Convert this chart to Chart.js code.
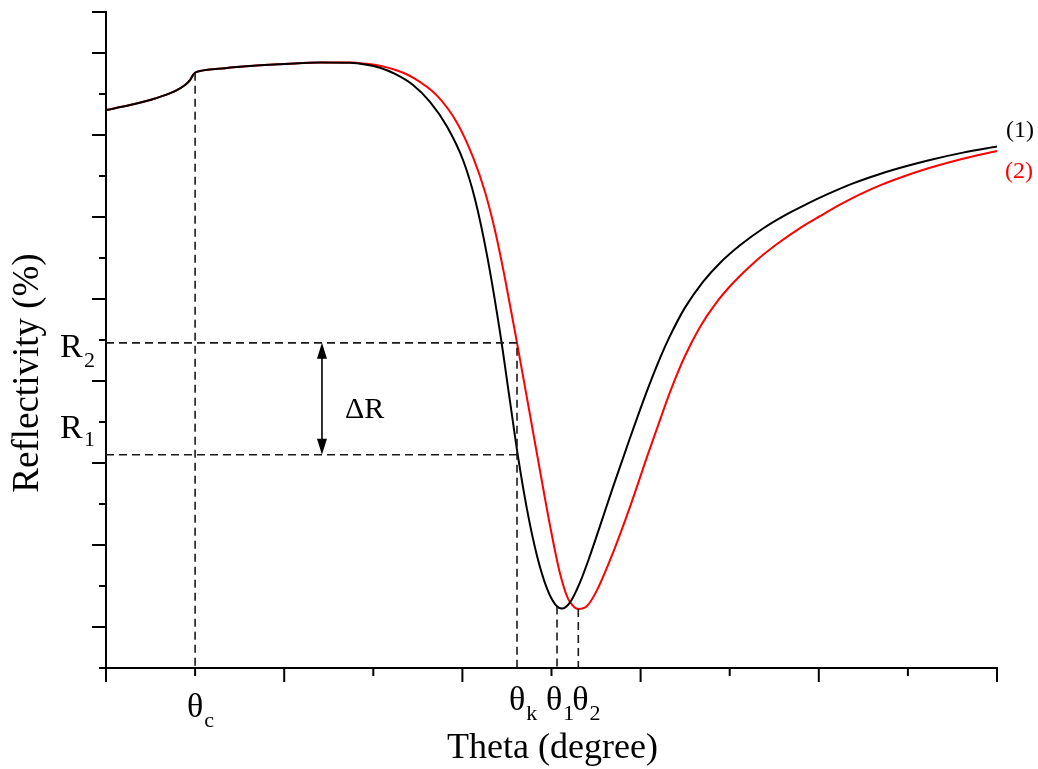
<!DOCTYPE html>
<html>
<head>
<meta charset="utf-8">
<script src="https://cdn.jsdelivr.net/npm/chart.js@4.4.1/dist/chart.umd.min.js"></script>
<style>
  html, body { margin: 0; padding: 0; background: #fff; }
  #wrap { width: 1038px; height: 769px; position: relative; }
</style>
</head>
<body>
<div id="wrap"><canvas id="sprChart"></canvas></div>
<script>
// curve (1), black
const theta1 = [0, 0.269, 0.550, 0.774, 0.887, 0.943, 0.976, 1.0, 1.055, 1.336, 1.616, 2.009, 2.402,
  2.738, 2.907, 3.075, 3.244, 3.446, 3.636, 3.827, 4.007, 4.141, 4.276, 4.422, 4.534, 4.624, 4.725, 4.837, 4.949,
  5.039, 5.118, 5.208, 5.320, 5.432, 5.544, 5.690, 5.881, 6.072, 6.218, 6.330, 6.498, 6.700, 6.891, 7.116,
  7.374, 7.643, 7.868, 8.092, 8.384, 8.687, 8.967, 9.248, 9.618, 10];
const refl1 = [13.61, 13.73, 13.89, 14.07, 14.22, 14.34, 14.46, 14.52, 14.56, 14.63, 14.68, 14.73, 14.77,
  14.76, 14.72, 14.64, 14.49, 14.22, 13.81, 13.21, 12.39, 11.44, 10.07, 8.19, 6.51, 5.16, 3.87, 2.74, 1.94,
  1.56, 1.45, 1.60, 2.09, 2.74, 3.46, 4.41, 5.61, 6.76, 7.56, 8.10, 8.79, 9.42, 9.88, 10.31,
  10.72, 11.07, 11.32, 11.55, 11.82, 12.05, 12.23, 12.39, 12.57, 12.72];
// curve (2), red
const theta2 = [0, 0.269, 0.550, 0.774, 0.887, 0.943, 0.976, 1.0, 1.055, 1.336, 1.616, 2.009, 2.402,
  2.738, 2.907, 3.075, 3.244, 3.446, 3.715, 3.939, 4.119, 4.254, 4.366, 4.478, 4.613, 4.759, 4.871, 4.983,
  5.095, 5.185, 5.253, 5.301, 5.398, 5.511, 5.690, 5.881, 6.072, 6.218, 6.330, 6.498, 6.667, 6.846, 7.037,
  7.284, 7.531, 7.789, 8.013, 8.238, 8.462, 8.687, 8.967, 9.248, 9.618, 10];
const refl2 = [13.61, 13.73, 13.89, 14.07, 14.22, 14.34, 14.46, 14.52, 14.56, 14.63, 14.68, 14.73, 14.77,
  14.77, 14.74, 14.69, 14.59, 14.40, 13.96, 13.30, 12.46, 11.61, 10.67, 9.50, 7.93, 6.17, 4.81, 3.48,
  2.31, 1.69, 1.49, 1.44, 1.51, 1.90, 2.81, 3.93, 5.15, 6.05, 6.73, 7.61, 8.32, 8.90, 9.39,
  9.91, 10.34, 10.73, 11.02, 11.30, 11.55, 11.77, 12.00, 12.20, 12.42, 12.61];

// marked angles and reflectivities
const thetaC = 1.0, reflC = 14.52;
const thetaK = 4.613;
const theta1Min = 5.062, refl1Min = 1.50;
const theta2Min = 5.301, refl2Min = 1.44;
const R1 = 5.20, R2 = 7.93;
const deltaX = 2.424;

const xMajor = [0, 2, 4, 6, 8, 10];
const xMinor = [1, 3, 5, 7, 9];
const yMajor = [1, 3, 5, 7, 9, 11, 13, 15, 16];
const yMinor = [0, 2, 4, 6, 8, 10, 12, 14];

const toPts = (xs, ys) => xs.map((x, i) => ({ x: x, y: ys[i] }));

const dashed = (pts) => ({
  data: pts,
  borderColor: '#1a1a1a',
  borderWidth: 1.6,
  borderDash: [8, 5],
  pointRadius: 0,
  tension: 0,
  fill: false
});

const SERIF = '"Liberation Serif", "DejaVu Serif", serif';

const annotate = {
  id: 'annotate',
  afterDraw(chart) {
    const { ctx, chartArea, scales } = chart;
    const xs = scales.x, ys = scales.y;
    ctx.save();
    ctx.strokeStyle = '#000';
    ctx.lineWidth = 2;

    // ticks
    const seg = (x0, y0, x1, y1) => { ctx.beginPath(); ctx.moveTo(x0, y0); ctx.lineTo(x1, y1); ctx.stroke(); };
    yMajor.forEach(v => { const p = ys.getPixelForValue(v); seg(chartArea.left - 14, p, chartArea.left, p); });
    yMinor.forEach(v => { const p = ys.getPixelForValue(v); seg(chartArea.left - 7, p, chartArea.left, p); });
    xMajor.forEach(v => { const p = xs.getPixelForValue(v); seg(p, chartArea.bottom, p, chartArea.bottom + 14); });
    xMinor.forEach(v => { const p = xs.getPixelForValue(v); seg(p, chartArea.bottom, p, chartArea.bottom + 8); });

    // delta R arrow
    const ax = xs.getPixelForValue(deltaX);
    const a1 = ys.getPixelForValue(R2), a2 = ys.getPixelForValue(R1);
    ctx.lineWidth = 1.6;
    seg(ax, a1 + 10, ax, a2 - 10);
    ctx.fillStyle = '#000';
    ctx.beginPath(); ctx.moveTo(ax, a1); ctx.lineTo(ax - 5, a1 + 16); ctx.lineTo(ax + 5, a1 + 16); ctx.closePath(); ctx.fill();
    ctx.beginPath(); ctx.moveTo(ax, a2); ctx.lineTo(ax - 5, a2 - 16); ctx.lineTo(ax + 5, a2 - 16); ctx.closePath(); ctx.fill();

    // texts
    const text = (s, x, y, size, align, color) => {
      ctx.font = size + 'px ' + SERIF;
      ctx.textAlign = align || 'left';
      ctx.textBaseline = 'alphabetic';
      ctx.fillStyle = color || '#000';
      ctx.fillText(s, x, y);
    };
    const sub = (main, x, y, s) => {
      text(main, x, y, 34, 'center');
      ctx.font = '34px ' + SERIF;
      const w = ctx.measureText(main).width;
      text(s, x + w / 2 + 1, y + 10, 22, 'left');
    };
    const bottom = chartArea.bottom;
    sub('\u03b8', xs.getPixelForValue(thetaC), bottom + 49, 'c');
    sub('\u03b8', xs.getPixelForValue(thetaK), bottom + 42, 'k');
    sub('\u03b8', xs.getPixelForValue(theta1Min) - 3, bottom + 42, '1');
    sub('\u03b8', xs.getPixelForValue(theta2Min) + 2, bottom + 42, '2');

    text('R', 60, ys.getPixelForValue(R2) + 14, 34, 'left');
    text('2', 84, ys.getPixelForValue(R2) + 24, 22, 'left');
    text('R', 60, ys.getPixelForValue(R1) - 17, 34, 'left');
    text('1', 84, ys.getPixelForValue(R1) - 9, 22, 'left');

    text('\u0394R', ax + 23, (a1 + a2) / 2 + 19, 30, 'left');

    const endY1 = ys.getPixelForValue(refl1[refl1.length - 1]);
    const endY2 = ys.getPixelForValue(refl2[refl2.length - 1]);
    text('(1)', chartArea.right + 9, endY1 - 9, 24, 'left', '#000');
    text('(2)', chartArea.right + 8, endY2 + 27, 24, 'left', '#ff0000');

    // axis titles
    text('Theta (degree)', (chartArea.left + chartArea.right) / 2 + 1, bottom + 90, 36, 'center');
    ctx.translate(38, (chartArea.top + chartArea.bottom) / 2 + 33);
    ctx.rotate(-Math.PI / 2);
    text('Reflectivity (%)', 0, 0, 37, 'center');
    ctx.restore();
  }
};

new Chart(document.getElementById('sprChart').getContext('2d'), {
  type: 'line',
  data: {
    datasets: [
      dashed([{ x: thetaC, y: reflC }, { x: thetaC, y: 0 }]),
      dashed([{ x: 0, y: R2 }, { x: thetaK, y: R2 }, { x: thetaK, y: 0 }]),
      dashed([{ x: 0, y: R1 }, { x: thetaK, y: R1 }]),
      dashed([{ x: theta1Min, y: refl1Min }, { x: theta1Min, y: 0 }]),
      dashed([{ x: theta2Min, y: refl2Min }, { x: theta2Min, y: 0 }]),
      {
        label: '(1)',
        data: toPts(theta1, refl1),
        borderColor: '#000000',
        borderWidth: 2,
        pointRadius: 0,
        cubicInterpolationMode: 'monotone',
        fill: false
      },
      {
        label: '(2)',
        data: toPts(theta2, refl2),
        borderColor: '#ff0000',
        borderWidth: 2,
        pointRadius: 0,
        cubicInterpolationMode: 'monotone',
        fill: false
      }
    ]
  },
  options: {
    responsive: true,
    maintainAspectRatio: false,
    animation: false,
    layout: { padding: { top: 12, right: 41, left: 0, bottom: 0 } },
    plugins: {
      legend: { display: false },
      tooltip: { enabled: false }
    },
    scales: {
      x: {
        type: 'linear',
        min: 0,
        max: 10,
        ticks: { display: false },
        grid: { display: false },
        border: { display: true, color: '#000', width: 2 },
        afterFit(scale) { scale.height = 101; }
      },
      y: {
        type: 'linear',
        min: 0,
        max: 16,
        ticks: { display: false },
        grid: { display: false },
        border: { display: true, color: '#000', width: 2 },
        afterFit(scale) { scale.width = 106; }
      }
    }
  },
  plugins: [annotate]
});
</script>
</body>
</html>
